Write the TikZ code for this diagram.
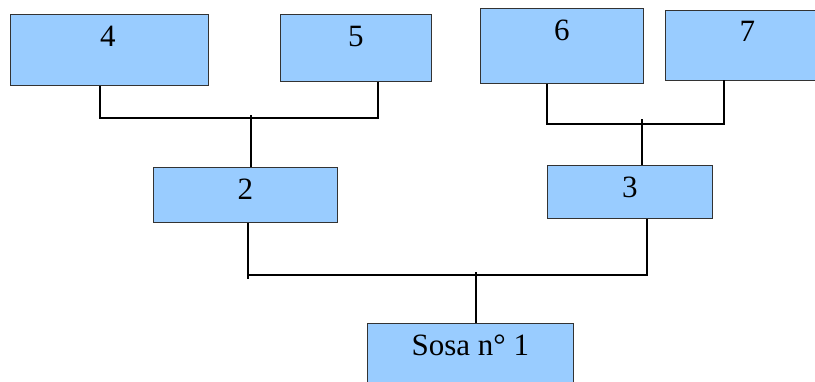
\documentclass[tikz,border=0pt]{standalone}
\usepackage{fontspec}
\setmainfont{Liberation Serif}
\definecolor{boxfill}{HTML}{99CCFF}
\definecolor{boxline}{HTML}{333333}
\begin{document}
\begin{tikzpicture}[x=1pt,y=-1pt,
  box/.style={draw=boxline, line width=0.8pt, fill=boxfill, rectangle, inner sep=0pt, anchor=north west},
  lbl/.style={anchor=base, inner sep=0pt, font=\fontsize{31}{36}\selectfont},
  conn/.style={draw=black, line width=2pt}]
\useasboundingbox (0,0) rectangle (815,381);
\clip (0,0) rectangle (815,381);
% boxes
\node[box, minimum width=198pt, minimum height=71pt] (n4) at (10,14) {};
\node[box, minimum width=151pt, minimum height=67pt] (n5) at (280,14) {};
\node[box, minimum width=163pt, minimum height=75pt] (n6) at (480,8) {};
\node[box, minimum width=164pt, minimum height=70pt] (n7) at (665,9.5) {};
\node[box, minimum width=184pt, minimum height=55pt] (n2) at (153,167) {};
\node[box, minimum width=165pt, minimum height=53pt] (n3) at (547,165) {};
\node[box, minimum width=206pt, minimum height=70pt] (n1) at (367,323) {};
% labels
\node[lbl] (t4) at ([xshift=-1.5pt,yshift=-32pt]n4.north) {4};
\node[lbl] (t5) at ([yshift=-32pt]n5.north) {5};
\node[lbl] (t6) at ([yshift=-32pt]n6.north) {6};
\node[lbl] (t7) at ([yshift=-32pt]n7.north) {7};
\node[lbl] (t2) at ([yshift=-32pt]n2.north) {2};
\node[lbl] (t3) at ([yshift=-32pt]n3.north) {3};
\node[lbl] (t1) at ([yshift=-32pt]n1.north) {Sosa n° 1};
% junctions
\coordinate (j45) at (251,118);
\coordinate (j67) at (642,124);
\coordinate (j23) at (476,275);
\coordinate (e2) at (248,279);
% connectors 4-5 -> 2
\draw[conn] ([xshift=-9pt]n4.south) |- (j45) -| ([xshift=22.5pt]n5.south);
\draw[conn] ([yshift=3pt]j45) -- (n2.north -| j45);
% connectors 6-7 -> 3
\draw[conn] ([xshift=-14.5pt]n6.south) |- (j67) -| ([xshift=-23pt]n7.south);
\draw[conn] ([yshift=5pt]j67) -- (n3.north -| j67);
% connectors 2-3 -> 1
\draw[conn] (n2.south -| e2) -- (e2);
\draw[conn] (e2 |- j23) -| ([xshift=17.5pt]n3.south);
\draw[conn] ([yshift=3pt]j23) -- (n1.north -| j23);
\end{tikzpicture}
\end{document}
